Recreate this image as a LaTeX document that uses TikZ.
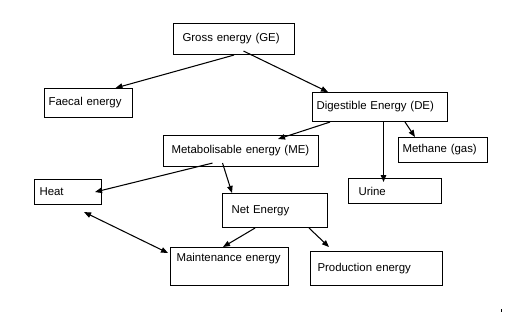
\documentclass[tikz,border=0pt]{standalone}
\usepackage{fontspec}
\setmainfont{Liberation Sans}
\usetikzlibrary{arrows.meta}
\begin{document}
\begin{tikzpicture}[x=0.02cm,y=-0.02cm,
				box/.style={draw, line width=0.6pt, anchor=north west, align=left,
					inner ysep=0pt, font=\fontsize{6.5}{8}\selectfont},
				arr/.style={line width=0.6pt, -{Triangle[length=1.4mm,width=1.1mm]}},
				darr/.style={line width=0.6pt, {Triangle[length=1.4mm,width=1.1mm]}-{Triangle[length=1.4mm,width=1.1mm]}}]
				\useasboundingbox (0,0) rectangle (507,322);
				% boxes
				\node[box, text width=2.06cm, inner xsep=0.18cm, minimum height=0.62cm] (ge) at (173,23) {Gross energy (GE)};
				\node[box, text width=1.6cm, inner xsep=0.08cm, minimum height=0.58cm] (fe) at (44,88) {Faecal energy};
				\node[box, text width=2.54cm, inner xsep=0.08cm, minimum height=0.58cm] (de) at (312,92) {Digestible Energy (DE)};
				\node[box, text width=2.78cm, inner xsep=0.16cm, minimum height=0.62cm] (me) at (163,135) {Metabolisable energy (ME)};
				\node[box, text width=1.62cm, inner xsep=0.08cm, minimum height=0.5cm] (mg) at (398,137) {Methane (gas)};
				\node[box, text width=1.46cm, inner xsep=0.2cm, minimum height=0.5cm] (ur) at (348,178) {Urine};
				\node[box, text width=1.14cm, inner xsep=0.1cm, minimum height=0.5cm] (ht) at (34,179) {Heat};
				\node[box, text width=1.74cm, inner xsep=0.18cm, minimum height=0.68cm] (ne) at (222,193) {Net Energy};
				\node[box, text width=2.12cm, inner xsep=0.12cm, minimum height=0.76cm, text depth=0.36cm] (mn) at (170,247) {Maintenance energy};
				\node[box, text width=2.36cm, inner xsep=0.14cm, minimum height=0.68cm] (pe) at (310,251) {Production energy};
				% arrows
				\draw[arr] (ge.south) -- ([xshift=0.54cm]fe.north);
				\draw[arr] ([xshift=0.19cm,yshift=0.08cm]ge.south) -- ([xshift=0.32cm]de.north west);
				\draw[arr] ([xshift=0.36cm]de.south west) -- ([xshift=-0.82cm,yshift=-0.08cm]me.north east);
				\draw[arr] ([xshift=0.07cm]de.south) -- ([xshift=0.07cm,yshift=-0.08cm]de.south |- ur.north);
				\draw[arr] ([xshift=-0.86cm]de.south east) -- ([xshift=0.34cm]mg.north west);
				\draw[arr] ([xshift=-0.57cm,yshift=0.08cm]me.south) -- ([xshift=-0.14cm]ht.east);
				\draw[arr] ([xshift=-0.37cm,yshift=0.08cm]me.south) -- ([xshift=0.2cm]ne.north west);
				\draw[arr] ([xshift=0.66cm]ne.south west) -- ([xshift=1.06cm]mn.north west);
				\draw[arr] ([xshift=-0.38cm]ne.south east) -- ([xshift=0.38cm,yshift=0.08cm]pe.north west);
				\draw[darr] ([xshift=-0.36cm,yshift=-0.14cm]ht.south east) -- ([xshift=-0.04cm,yshift=-0.12cm]mn.north west);
				\fill (500.5,309) rectangle (501.5,311.5);
			\end{tikzpicture}
\end{document}
